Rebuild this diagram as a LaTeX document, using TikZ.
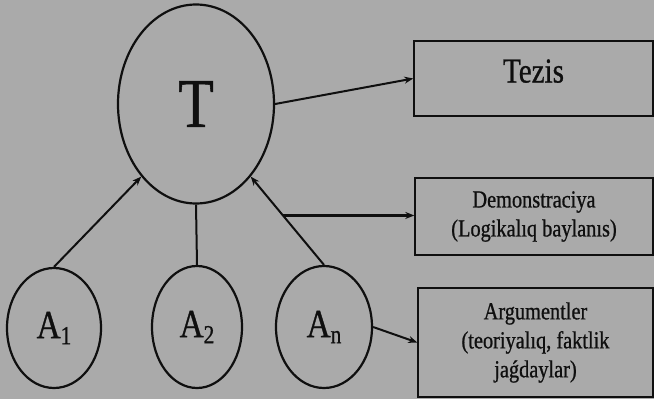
\documentclass[tikz,border=0pt]{standalone}
\usepackage{fontspec}
\setmainfont{Liberation Serif}[FakeStretch=0.83,FakeBold=0.8]
\usetikzlibrary{arrows.meta,shapes.geometric}
\definecolor{bg}{RGB}{170,170,170}
\definecolor{ink}{RGB}{15,15,15}
\newcommand\mysub[1]{\raisebox{-6pt}{\fontsize{26pt}{26pt}\selectfont #1}}
\tikzset{
  oval/.style={ellipse, draw=ink, line width=2.2pt, inner sep=0pt, text=ink},
  infobox/.style={rectangle, draw=ink, line width=1.4pt, inner sep=0pt, text=ink, align=center,
    font=\fontsize{24.5pt}{29pt}\selectfont},
  link/.style={draw=ink, line width=2pt},
  arr/.style={link, -{Stealth[length=9pt,width=7pt]}}
}
\begin{document}
\begin{tikzpicture}[x=1pt,y=-1pt]
\fill[bg] (0,0) rectangle (654,399);
\useasboundingbox (0,0) rectangle (654,399);
% ellipses
\node[oval, minimum width=156pt, minimum height=199pt, font=\fontsize{70pt}{70pt}\selectfont] (T) at (196,104) {T};
\node[oval, minimum width=94pt, minimum height=120pt, font=\fontsize{40pt}{40pt}\selectfont] (a1) at (54,328) {A\mysub{1}};
\node[oval, minimum width=90pt, minimum height=122pt, font=\fontsize{40pt}{40pt}\selectfont] (a2) at (197,327) {A\mysub{2}};
\node[oval, minimum width=96pt, minimum height=122pt, font=\fontsize{40pt}{40pt}\selectfont] (an) at (324,327) {A\mysub{n}};
% boxes
\node[infobox, minimum width=239pt, minimum height=75pt, font=\fontsize{35pt}{35pt}\selectfont, text height=23pt, text depth=15pt] (tz) at (533.5,78.5) {Tezis};
\node[infobox, minimum width=238pt, minimum height=77pt] (dm) at (534,216.5) {Demonstraciya\\(Logikalıq baylanıs)};
\node[infobox, minimum width=235pt, minimum height=109pt] (ag) at (535.5,342.5) {Argumentler\\(teoriyalıq, faktlik\\jaǵdaylar)};
% connectors
\draw[arr] (a1.north) -- (T.233);
\draw[link] (a2.north) -- (T.south);
\draw[arr] (an.north) -- (T.307) coordinate[pos=0.56] (mid);
\draw[arr] (T.east) -- (tz.west);
\draw[arr, line width=2.8pt] (mid) -- (mid -| dm.west);
\draw[arr] (an.east) -- (ag.west);
\end{tikzpicture}
\end{document}
